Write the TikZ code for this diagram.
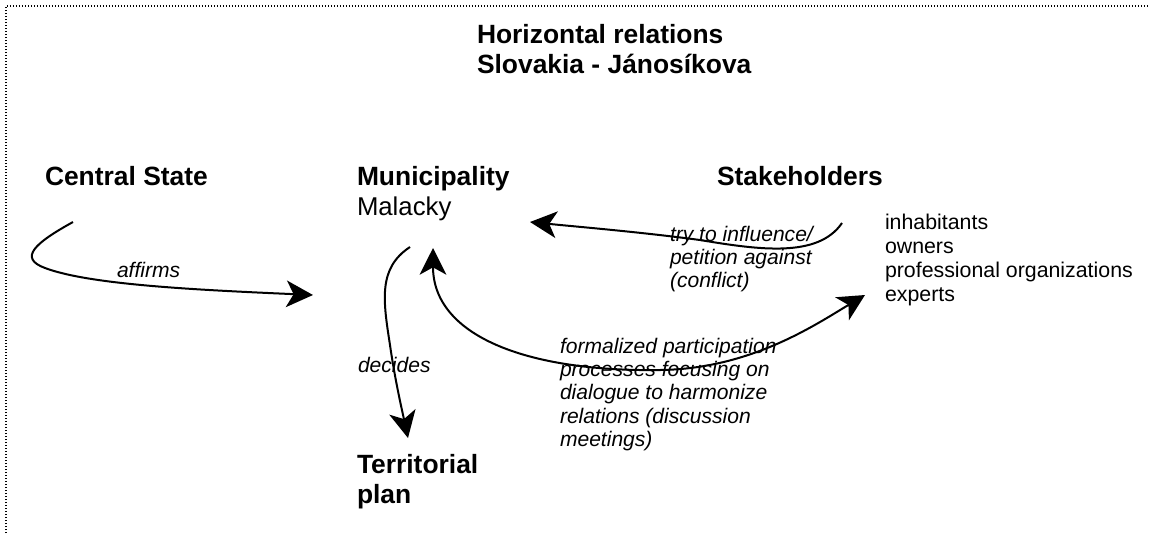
\documentclass[tikz,border=0pt]{standalone}
\usepackage{fontspec}
\setmainfont{Liberation Sans}
\usetikzlibrary{arrows.meta}
\newcommand\mlines[1]{\begin{tabular}[t]{@{}l@{}}#1\end{tabular}}
\begin{document}
\begin{tikzpicture}[x=0.75pt,y=-0.75pt,
  lbl/.style={anchor=base west, inner sep=0pt, outer sep=0pt},
  hd/.style={lbl, font=\fontsize{19.8}{22.5}\selectfont\bfseries},
  sub/.style={lbl, font=\fontsize{19.3}{22.5}\selectfont},
  lst/.style={lbl, font=\fontsize{16}{18.2}\selectfont},
  rel/.style={lbl, font=\fontsize{15.8}{17.6}\selectfont\itshape},
  arr/.style={line width=1.5pt, -{Stealth[length=20pt, width=20pt, inset=5.5pt]}},
  darr/.style={line width=1.5pt, {Stealth[length=20pt, width=20pt, inset=5.5pt]}-{Stealth[length=20pt, width=20pt, inset=5.5pt]}},
  frame/.style={line width=1.1pt, dash pattern=on 1.1pt off 1.15pt}
]
\useasboundingbox (0,0) rectangle (1149,533);
\draw[frame] (6,533) -- (6,6) -- (1149,6);

% texts
\node[hd] (title) at (477,43) {\mlines{Horizontal relations\\Slovakia - Jánosíkova}};
\node[hd] (cs) at (45,185) {Central State};
\node[hd] (mun) at (357,185) {Municipality};
\node[sub] (mal) at (357,215) {Malacky};
\node[hd] (stk) at (717,185) {Stakeholders};
\node[lst] (list) at (885,229) {\mlines{inhabitants\\owners\\professional organizations\\experts}};
\node[hd] (tp) at (357,473) {\mlines{Territorial\\plan}};
\node[rel] (aff) at (117,277) {affirms};
\node[rel] (dec) at (358,372) {decides};
\node[rel] (try) at (670,241) {\mlines{try to influence/\\petition against\\(conflict)}};
\node[rel] (form) at (560,353) {\mlines{formalized participation\\processes focusing on\\dialogue to harmonize\\relations (discussion\\meetings)}};

% connector end points
\coordinate (csOut) at (73,222);
\coordinate (munIn) at (313,295);
\coordinate (munOut) at (410,247);
\coordinate (tpIn) at (408,438);
\coordinate (munTop) at (433,248);
\coordinate (stkIn) at (865,295);
\coordinate (stkOut) at (842,223);
\coordinate (malIn) at (530,222);

% connectors
\draw[arr] (csOut) .. controls (35,243) and (18,258) .. (45,268)
  .. controls (90,285) and (200,290) .. (munIn);
\draw[arr] (munOut) .. controls (378,268) and (383,300) .. (390,345)
  .. controls (395,380) and (402,410) .. (tpIn);
\draw[darr] (munTop) .. controls (433,335) and (525,372) .. (660,370)
  .. controls (750,369) and (815,325) .. (stkIn);
\draw[arr] (stkOut) .. controls (818,258) and (760,250) .. (700,240)
  .. controls (640,232) and (580,227) .. (malIn);
\end{tikzpicture}
\end{document}
